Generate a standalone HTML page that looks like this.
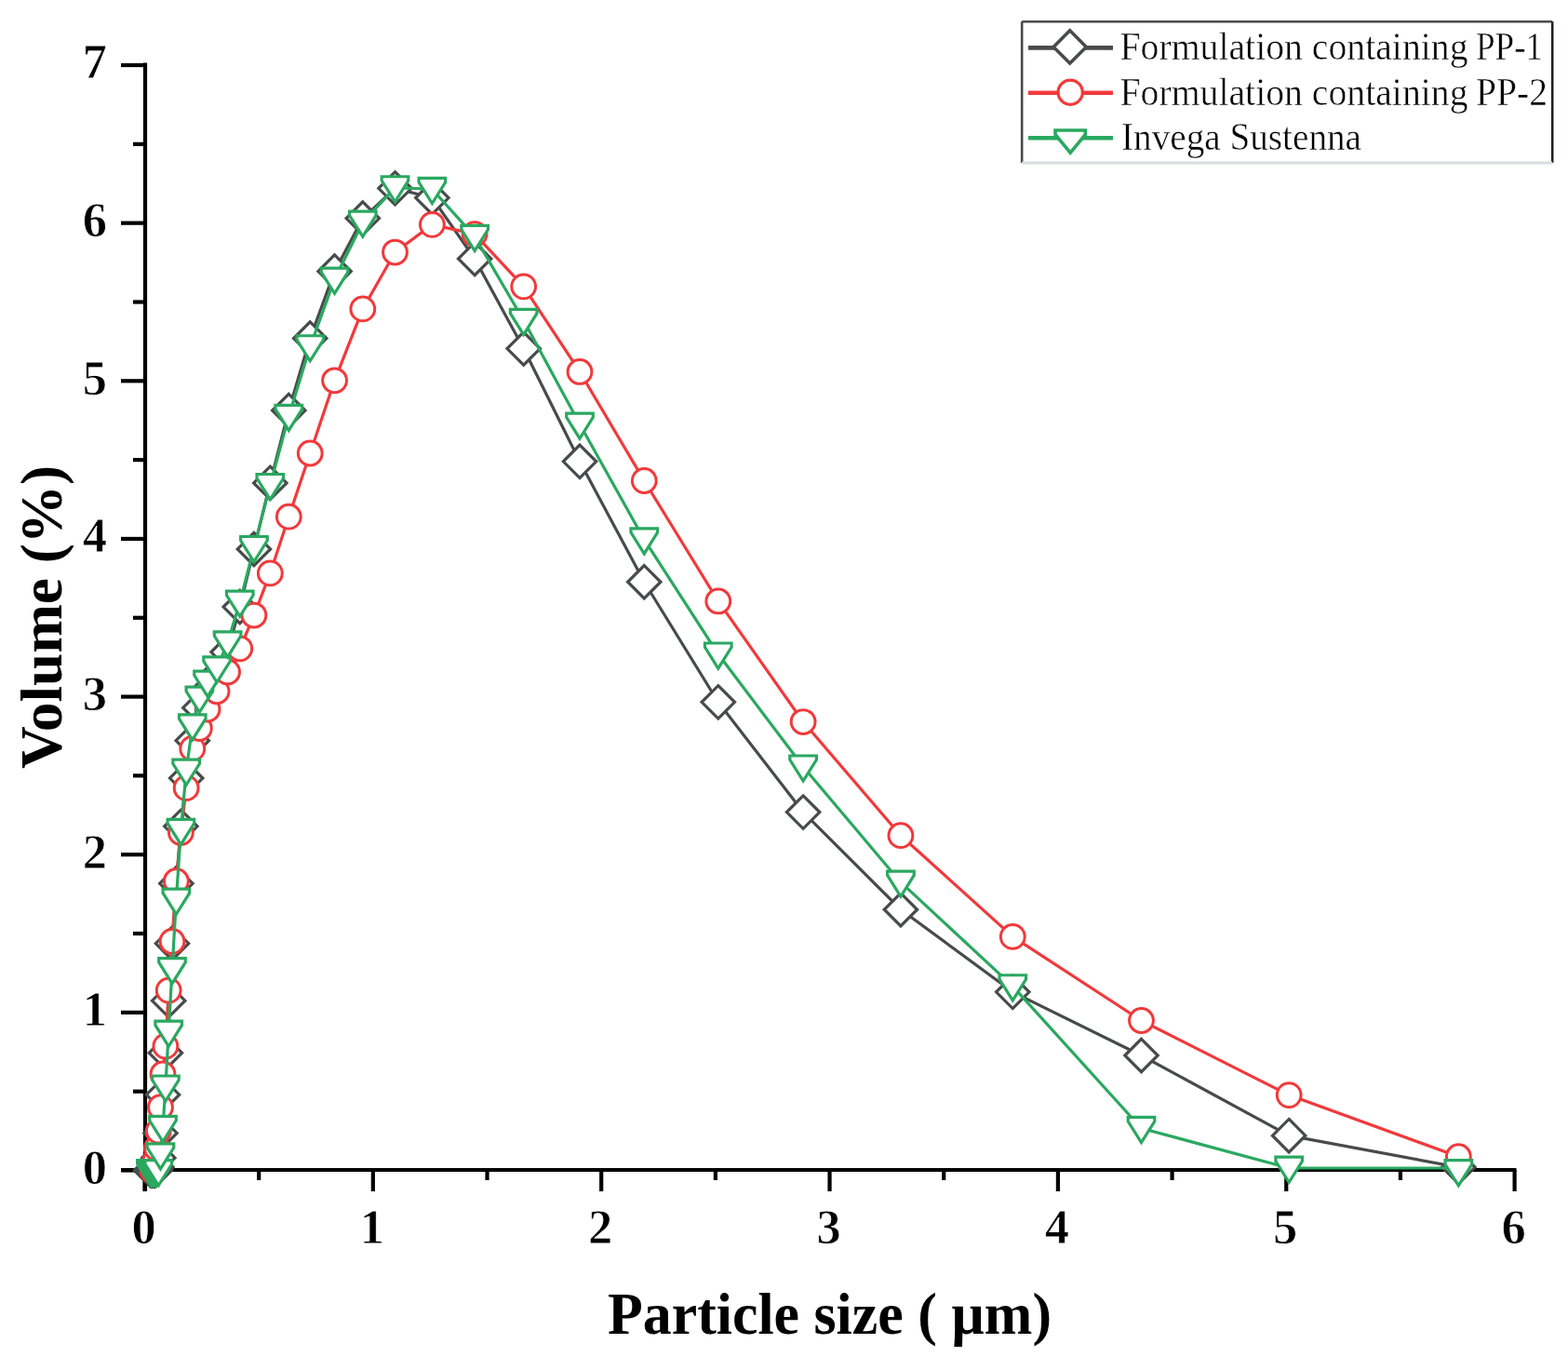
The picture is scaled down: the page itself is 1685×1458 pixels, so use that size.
<!DOCTYPE html>
<html><head><meta charset="utf-8"><title>Particle size distribution</title>
<style>html,body{margin:0;padding:0;background:#fff;}svg{display:block;}</style></head>
<body>
<svg width="1685" height="1458" viewBox="0 0 1685 1458">
<rect x="0" y="0" width="1685" height="1458" fill="#fff"/>
<g id="axes">
<line x1="156" y1="67.5" x2="156" y2="1280" stroke="#000" stroke-width="4.2"/>
<line x1="130" y1="1257" x2="1629.5" y2="1257" stroke="#000" stroke-width="4.2"/>
<line x1="130" y1="1257.50" x2="156" y2="1257.50" stroke="#000" stroke-width="4.2"/>
<line x1="143" y1="1172.68" x2="156" y2="1172.68" stroke="#000" stroke-width="4.2"/>
<line x1="130" y1="1087.86" x2="156" y2="1087.86" stroke="#000" stroke-width="4.2"/>
<line x1="143" y1="1003.04" x2="156" y2="1003.04" stroke="#000" stroke-width="4.2"/>
<line x1="130" y1="918.22" x2="156" y2="918.22" stroke="#000" stroke-width="4.2"/>
<line x1="143" y1="833.40" x2="156" y2="833.40" stroke="#000" stroke-width="4.2"/>
<line x1="130" y1="748.58" x2="156" y2="748.58" stroke="#000" stroke-width="4.2"/>
<line x1="143" y1="663.76" x2="156" y2="663.76" stroke="#000" stroke-width="4.2"/>
<line x1="130" y1="578.94" x2="156" y2="578.94" stroke="#000" stroke-width="4.2"/>
<line x1="143" y1="494.12" x2="156" y2="494.12" stroke="#000" stroke-width="4.2"/>
<line x1="130" y1="409.30" x2="156" y2="409.30" stroke="#000" stroke-width="4.2"/>
<line x1="143" y1="324.48" x2="156" y2="324.48" stroke="#000" stroke-width="4.2"/>
<line x1="130" y1="239.66" x2="156" y2="239.66" stroke="#000" stroke-width="4.2"/>
<line x1="143" y1="154.84" x2="156" y2="154.84" stroke="#000" stroke-width="4.2"/>
<line x1="130" y1="70.02" x2="156" y2="70.02" stroke="#000" stroke-width="4.2"/>
<line x1="155.50" y1="1257" x2="155.50" y2="1280" stroke="#000" stroke-width="4.2"/>
<line x1="278.18" y1="1257" x2="278.18" y2="1268" stroke="#000" stroke-width="4.2"/>
<line x1="400.85" y1="1257" x2="400.85" y2="1280" stroke="#000" stroke-width="4.2"/>
<line x1="523.52" y1="1257" x2="523.52" y2="1268" stroke="#000" stroke-width="4.2"/>
<line x1="646.20" y1="1257" x2="646.20" y2="1280" stroke="#000" stroke-width="4.2"/>
<line x1="768.88" y1="1257" x2="768.88" y2="1268" stroke="#000" stroke-width="4.2"/>
<line x1="891.55" y1="1257" x2="891.55" y2="1280" stroke="#000" stroke-width="4.2"/>
<line x1="1014.23" y1="1257" x2="1014.23" y2="1268" stroke="#000" stroke-width="4.2"/>
<line x1="1136.90" y1="1257" x2="1136.90" y2="1280" stroke="#000" stroke-width="4.2"/>
<line x1="1259.58" y1="1257" x2="1259.58" y2="1268" stroke="#000" stroke-width="4.2"/>
<line x1="1382.25" y1="1257" x2="1382.25" y2="1280" stroke="#000" stroke-width="4.2"/>
<line x1="1504.92" y1="1257" x2="1504.92" y2="1268" stroke="#000" stroke-width="4.2"/>
<line x1="1627.60" y1="1257" x2="1627.60" y2="1280" stroke="#000" stroke-width="4.2"/>
</g>
<g id="series">
<polyline points="161.95,1257.5 162.91,1257.5 164.01,1257.5 165.27,1257.5 166.71,1257.5 168.38,1254.11 170.28,1243.93 172.47,1217.46 174.99,1176.24 177.88,1131.29 181.19,1075.14 185.0,1013.73 189.37,949.26 194.39,887.85 200.15,836.11 206.76,795.74 214.36,760.45 223.08,741.79 233.09,724.83 244.58,700.57 257.78,652.05 272.93,589.97 290.33,518.89 310.31,441.02 333.24,363.5 359.57,291.57 389.81,234.57 424.52,202.34 464.38,212.52 510.14,278.0 562.68,374.52 623.0,495.82 692.27,625.25 771.79,754.35 863.1,872.59 967.93,977.25 1088.29,1065.81 1226.49,1134.0 1385.16,1220.18 1567.34,1254.11" fill="none" stroke="#484b4b" stroke-width="3.2" stroke-linejoin="round"/>
<path d="M161.95,1239.80L179.65,1257.50L161.95,1275.20L144.25,1257.50Z" fill="#fff" stroke="#484b4b" stroke-width="3.2"/>
<path d="M162.91,1239.80L180.61,1257.50L162.91,1275.20L145.21,1257.50Z" fill="#fff" stroke="#484b4b" stroke-width="3.2"/>
<path d="M164.01,1239.80L181.71,1257.50L164.01,1275.20L146.31,1257.50Z" fill="#fff" stroke="#484b4b" stroke-width="3.2"/>
<path d="M165.27,1239.80L182.97,1257.50L165.27,1275.20L147.57,1257.50Z" fill="#fff" stroke="#484b4b" stroke-width="3.2"/>
<path d="M166.71,1239.80L184.41,1257.50L166.71,1275.20L149.01,1257.50Z" fill="#fff" stroke="#484b4b" stroke-width="3.2"/>
<path d="M168.38,1236.41L186.08,1254.11L168.38,1271.81L150.68,1254.11Z" fill="#fff" stroke="#484b4b" stroke-width="3.2"/>
<path d="M170.28,1226.23L187.98,1243.93L170.28,1261.63L152.58,1243.93Z" fill="#fff" stroke="#484b4b" stroke-width="3.2"/>
<path d="M172.47,1199.76L190.17,1217.46L172.47,1235.16L154.77,1217.46Z" fill="#fff" stroke="#484b4b" stroke-width="3.2"/>
<path d="M174.99,1158.54L192.69,1176.24L174.99,1193.94L157.29,1176.24Z" fill="#fff" stroke="#484b4b" stroke-width="3.2"/>
<path d="M177.88,1113.59L195.58,1131.29L177.88,1148.99L160.18,1131.29Z" fill="#fff" stroke="#484b4b" stroke-width="3.2"/>
<path d="M181.19,1057.44L198.89,1075.14L181.19,1092.84L163.49,1075.14Z" fill="#fff" stroke="#484b4b" stroke-width="3.2"/>
<path d="M185.00,996.03L202.70,1013.73L185.00,1031.43L167.30,1013.73Z" fill="#fff" stroke="#484b4b" stroke-width="3.2"/>
<path d="M189.37,931.56L207.07,949.26L189.37,966.96L171.67,949.26Z" fill="#fff" stroke="#484b4b" stroke-width="3.2"/>
<path d="M194.39,870.15L212.09,887.85L194.39,905.55L176.69,887.85Z" fill="#fff" stroke="#484b4b" stroke-width="3.2"/>
<path d="M200.15,818.41L217.85,836.11L200.15,853.81L182.45,836.11Z" fill="#fff" stroke="#484b4b" stroke-width="3.2"/>
<path d="M206.76,778.04L224.46,795.74L206.76,813.44L189.06,795.74Z" fill="#fff" stroke="#484b4b" stroke-width="3.2"/>
<path d="M214.36,742.75L232.06,760.45L214.36,778.15L196.66,760.45Z" fill="#fff" stroke="#484b4b" stroke-width="3.2"/>
<path d="M223.08,724.09L240.78,741.79L223.08,759.49L205.38,741.79Z" fill="#fff" stroke="#484b4b" stroke-width="3.2"/>
<path d="M233.09,707.13L250.79,724.83L233.09,742.53L215.39,724.83Z" fill="#fff" stroke="#484b4b" stroke-width="3.2"/>
<path d="M244.58,682.87L262.28,700.57L244.58,718.27L226.88,700.57Z" fill="#fff" stroke="#484b4b" stroke-width="3.2"/>
<path d="M257.78,634.35L275.48,652.05L257.78,669.75L240.08,652.05Z" fill="#fff" stroke="#484b4b" stroke-width="3.2"/>
<path d="M272.93,572.27L290.63,589.97L272.93,607.67L255.23,589.97Z" fill="#fff" stroke="#484b4b" stroke-width="3.2"/>
<path d="M290.33,501.19L308.03,518.89L290.33,536.59L272.63,518.89Z" fill="#fff" stroke="#484b4b" stroke-width="3.2"/>
<path d="M310.31,423.32L328.01,441.02L310.31,458.72L292.61,441.02Z" fill="#fff" stroke="#484b4b" stroke-width="3.2"/>
<path d="M333.24,345.80L350.94,363.50L333.24,381.20L315.54,363.50Z" fill="#fff" stroke="#484b4b" stroke-width="3.2"/>
<path d="M359.57,273.87L377.27,291.57L359.57,309.27L341.87,291.57Z" fill="#fff" stroke="#484b4b" stroke-width="3.2"/>
<path d="M389.81,216.87L407.51,234.57L389.81,252.27L372.11,234.57Z" fill="#fff" stroke="#484b4b" stroke-width="3.2"/>
<path d="M424.52,184.64L442.22,202.34L424.52,220.04L406.82,202.34Z" fill="#fff" stroke="#484b4b" stroke-width="3.2"/>
<path d="M464.38,194.82L482.08,212.52L464.38,230.22L446.68,212.52Z" fill="#fff" stroke="#484b4b" stroke-width="3.2"/>
<path d="M510.14,260.30L527.84,278.00L510.14,295.70L492.44,278.00Z" fill="#fff" stroke="#484b4b" stroke-width="3.2"/>
<path d="M562.68,356.82L580.38,374.52L562.68,392.22L544.98,374.52Z" fill="#fff" stroke="#484b4b" stroke-width="3.2"/>
<path d="M623.00,478.12L640.70,495.82L623.00,513.52L605.30,495.82Z" fill="#fff" stroke="#484b4b" stroke-width="3.2"/>
<path d="M692.27,607.55L709.97,625.25L692.27,642.95L674.57,625.25Z" fill="#fff" stroke="#484b4b" stroke-width="3.2"/>
<path d="M771.79,736.65L789.49,754.35L771.79,772.05L754.09,754.35Z" fill="#fff" stroke="#484b4b" stroke-width="3.2"/>
<path d="M863.10,854.89L880.80,872.59L863.10,890.29L845.40,872.59Z" fill="#fff" stroke="#484b4b" stroke-width="3.2"/>
<path d="M967.93,959.55L985.63,977.25L967.93,994.95L950.23,977.25Z" fill="#fff" stroke="#484b4b" stroke-width="3.2"/>
<path d="M1088.29,1048.11L1105.99,1065.81L1088.29,1083.51L1070.59,1065.81Z" fill="#fff" stroke="#484b4b" stroke-width="3.2"/>
<path d="M1226.49,1116.30L1244.19,1134.00L1226.49,1151.70L1208.79,1134.00Z" fill="#fff" stroke="#484b4b" stroke-width="3.2"/>
<path d="M1385.16,1202.48L1402.86,1220.18L1385.16,1237.88L1367.46,1220.18Z" fill="#fff" stroke="#484b4b" stroke-width="3.2"/>
<path d="M1567.34,1236.41L1585.04,1254.11L1567.34,1271.81L1549.64,1254.11Z" fill="#fff" stroke="#484b4b" stroke-width="3.2"/>
<polyline points="164.01,1257.5 165.27,1255.8 166.71,1247.32 168.38,1233.75 170.28,1215.09 172.47,1189.64 174.99,1154.02 177.88,1124.16 181.19,1064.11 185.0,1011.52 189.37,946.72 194.39,894.47 200.15,846.63 206.76,804.39 214.36,782.51 223.08,761.98 233.09,742.81 244.58,721.95 257.78,696.84 272.93,661.05 290.33,615.92 310.31,555.19 333.24,487.0 359.57,408.79 389.81,331.94 424.52,271.04 464.38,241.36 510.14,251.53 562.68,307.86 623.0,399.46 692.27,516.51 771.79,645.95 863.1,775.55 967.93,897.69 1088.29,1006.43 1226.49,1096.51 1385.16,1176.58 1567.34,1242.74" fill="none" stroke="#f2393b" stroke-width="3.2" stroke-linejoin="round"/>
<circle cx="164.01" cy="1257.5" r="12.9" fill="#fff" stroke="#f2393b" stroke-width="3.0"/>
<circle cx="165.27" cy="1255.8" r="12.9" fill="#fff" stroke="#f2393b" stroke-width="3.0"/>
<circle cx="166.71" cy="1247.32" r="12.9" fill="#fff" stroke="#f2393b" stroke-width="3.0"/>
<circle cx="168.38" cy="1233.75" r="12.9" fill="#fff" stroke="#f2393b" stroke-width="3.0"/>
<circle cx="170.28" cy="1215.09" r="12.9" fill="#fff" stroke="#f2393b" stroke-width="3.0"/>
<circle cx="172.47" cy="1189.64" r="12.9" fill="#fff" stroke="#f2393b" stroke-width="3.0"/>
<circle cx="174.99" cy="1154.02" r="12.9" fill="#fff" stroke="#f2393b" stroke-width="3.0"/>
<circle cx="177.88" cy="1124.16" r="12.9" fill="#fff" stroke="#f2393b" stroke-width="3.0"/>
<circle cx="181.19" cy="1064.11" r="12.9" fill="#fff" stroke="#f2393b" stroke-width="3.0"/>
<circle cx="185.0" cy="1011.52" r="12.9" fill="#fff" stroke="#f2393b" stroke-width="3.0"/>
<circle cx="189.37" cy="946.72" r="12.9" fill="#fff" stroke="#f2393b" stroke-width="3.0"/>
<circle cx="194.39" cy="894.47" r="12.9" fill="#fff" stroke="#f2393b" stroke-width="3.0"/>
<circle cx="200.15" cy="846.63" r="12.9" fill="#fff" stroke="#f2393b" stroke-width="3.0"/>
<circle cx="206.76" cy="804.39" r="12.9" fill="#fff" stroke="#f2393b" stroke-width="3.0"/>
<circle cx="214.36" cy="782.51" r="12.9" fill="#fff" stroke="#f2393b" stroke-width="3.0"/>
<circle cx="223.08" cy="761.98" r="12.9" fill="#fff" stroke="#f2393b" stroke-width="3.0"/>
<circle cx="233.09" cy="742.81" r="12.9" fill="#fff" stroke="#f2393b" stroke-width="3.0"/>
<circle cx="244.58" cy="721.95" r="12.9" fill="#fff" stroke="#f2393b" stroke-width="3.0"/>
<circle cx="257.78" cy="696.84" r="12.9" fill="#fff" stroke="#f2393b" stroke-width="3.0"/>
<circle cx="272.93" cy="661.05" r="12.9" fill="#fff" stroke="#f2393b" stroke-width="3.0"/>
<circle cx="290.33" cy="615.92" r="12.9" fill="#fff" stroke="#f2393b" stroke-width="3.0"/>
<circle cx="310.31" cy="555.19" r="12.9" fill="#fff" stroke="#f2393b" stroke-width="3.0"/>
<circle cx="333.24" cy="487.0" r="12.9" fill="#fff" stroke="#f2393b" stroke-width="3.0"/>
<circle cx="359.57" cy="408.79" r="12.9" fill="#fff" stroke="#f2393b" stroke-width="3.0"/>
<circle cx="389.81" cy="331.94" r="12.9" fill="#fff" stroke="#f2393b" stroke-width="3.0"/>
<circle cx="424.52" cy="271.04" r="12.9" fill="#fff" stroke="#f2393b" stroke-width="3.0"/>
<circle cx="464.38" cy="241.36" r="12.9" fill="#fff" stroke="#f2393b" stroke-width="3.0"/>
<circle cx="510.14" cy="251.53" r="12.9" fill="#fff" stroke="#f2393b" stroke-width="3.0"/>
<circle cx="562.68" cy="307.86" r="12.9" fill="#fff" stroke="#f2393b" stroke-width="3.0"/>
<circle cx="623.0" cy="399.46" r="12.9" fill="#fff" stroke="#f2393b" stroke-width="3.0"/>
<circle cx="692.27" cy="516.51" r="12.9" fill="#fff" stroke="#f2393b" stroke-width="3.0"/>
<circle cx="771.79" cy="645.95" r="12.9" fill="#fff" stroke="#f2393b" stroke-width="3.0"/>
<circle cx="863.1" cy="775.55" r="12.9" fill="#fff" stroke="#f2393b" stroke-width="3.0"/>
<circle cx="967.93" cy="897.69" r="12.9" fill="#fff" stroke="#f2393b" stroke-width="3.0"/>
<circle cx="1088.29" cy="1006.43" r="12.9" fill="#fff" stroke="#f2393b" stroke-width="3.0"/>
<circle cx="1226.49" cy="1096.51" r="12.9" fill="#fff" stroke="#f2393b" stroke-width="3.0"/>
<circle cx="1385.16" cy="1176.58" r="12.9" fill="#fff" stroke="#f2393b" stroke-width="3.0"/>
<circle cx="1567.34" cy="1242.74" r="12.9" fill="#fff" stroke="#f2393b" stroke-width="3.0"/>
<polyline points="161.95,1258.39 162.91,1258.39 164.01,1258.39 165.27,1258.39 166.71,1258.39 168.38,1258.39 170.28,1258.39 172.47,1240.58 174.99,1211.23 177.88,1167.81 181.19,1108.94 185.0,1041.42 189.37,966.95 194.39,892.14 200.15,828.02 206.76,779.67 214.36,749.98 223.08,733.02 233.09,717.75 244.58,690.61 257.78,647.01 272.93,588.31 290.33,521.31 310.31,447.17 333.24,372.53 359.57,299.93 389.81,238.86 424.52,201.54 464.38,203.23 510.14,254.12 562.68,344.2 623.0,455.83 692.27,579.66 771.79,702.82 863.1,823.78 967.93,947.95 1088.29,1059.57 1226.49,1212.25 1385.16,1255.0 1567.34,1255.0" fill="none" stroke="#2aa860" stroke-width="3.2" stroke-linejoin="round"/>
<path d="M147.65,1246.59L176.25,1246.59L176.25,1250.89L161.95,1273.69L147.65,1250.89Z" fill="#fff" stroke="#2aa860" stroke-width="3.2" stroke-linejoin="miter"/>
<path d="M148.61,1246.59L177.21,1246.59L177.21,1250.89L162.91,1273.69L148.61,1250.89Z" fill="#fff" stroke="#2aa860" stroke-width="3.2" stroke-linejoin="miter"/>
<path d="M149.71,1246.59L178.31,1246.59L178.31,1250.89L164.01,1273.69L149.71,1250.89Z" fill="#fff" stroke="#2aa860" stroke-width="3.2" stroke-linejoin="miter"/>
<path d="M150.97,1246.59L179.57,1246.59L179.57,1250.89L165.27,1273.69L150.97,1250.89Z" fill="#fff" stroke="#2aa860" stroke-width="3.2" stroke-linejoin="miter"/>
<path d="M152.41,1246.59L181.01,1246.59L181.01,1250.89L166.71,1273.69L152.41,1250.89Z" fill="#fff" stroke="#2aa860" stroke-width="3.2" stroke-linejoin="miter"/>
<path d="M154.08,1246.59L182.68,1246.59L182.68,1250.89L168.38,1273.69L154.08,1250.89Z" fill="#fff" stroke="#2aa860" stroke-width="3.2" stroke-linejoin="miter"/>
<path d="M155.98,1246.59L184.58,1246.59L184.58,1250.89L170.28,1273.69L155.98,1250.89Z" fill="#fff" stroke="#2aa860" stroke-width="3.2" stroke-linejoin="miter"/>
<path d="M158.17,1228.78L186.77,1228.78L186.77,1233.08L172.47,1255.88L158.17,1233.08Z" fill="#fff" stroke="#2aa860" stroke-width="3.2" stroke-linejoin="miter"/>
<path d="M160.69,1199.43L189.29,1199.43L189.29,1203.73L174.99,1226.53L160.69,1203.73Z" fill="#fff" stroke="#2aa860" stroke-width="3.2" stroke-linejoin="miter"/>
<path d="M163.58,1156.01L192.18,1156.01L192.18,1160.31L177.88,1183.11L163.58,1160.31Z" fill="#fff" stroke="#2aa860" stroke-width="3.2" stroke-linejoin="miter"/>
<path d="M166.89,1097.14L195.49,1097.14L195.49,1101.44L181.19,1124.24L166.89,1101.44Z" fill="#fff" stroke="#2aa860" stroke-width="3.2" stroke-linejoin="miter"/>
<path d="M170.70,1029.62L199.30,1029.62L199.30,1033.92L185.00,1056.72L170.70,1033.92Z" fill="#fff" stroke="#2aa860" stroke-width="3.2" stroke-linejoin="miter"/>
<path d="M175.07,955.15L203.67,955.15L203.67,959.45L189.37,982.25L175.07,959.45Z" fill="#fff" stroke="#2aa860" stroke-width="3.2" stroke-linejoin="miter"/>
<path d="M180.09,880.34L208.69,880.34L208.69,884.64L194.39,907.44L180.09,884.64Z" fill="#fff" stroke="#2aa860" stroke-width="3.2" stroke-linejoin="miter"/>
<path d="M185.85,816.22L214.45,816.22L214.45,820.52L200.15,843.32L185.85,820.52Z" fill="#fff" stroke="#2aa860" stroke-width="3.2" stroke-linejoin="miter"/>
<path d="M192.46,767.87L221.06,767.87L221.06,772.17L206.76,794.97L192.46,772.17Z" fill="#fff" stroke="#2aa860" stroke-width="3.2" stroke-linejoin="miter"/>
<path d="M200.06,738.18L228.66,738.18L228.66,742.48L214.36,765.28L200.06,742.48Z" fill="#fff" stroke="#2aa860" stroke-width="3.2" stroke-linejoin="miter"/>
<path d="M208.78,721.22L237.38,721.22L237.38,725.52L223.08,748.32L208.78,725.52Z" fill="#fff" stroke="#2aa860" stroke-width="3.2" stroke-linejoin="miter"/>
<path d="M218.79,705.95L247.39,705.95L247.39,710.25L233.09,733.05L218.79,710.25Z" fill="#fff" stroke="#2aa860" stroke-width="3.2" stroke-linejoin="miter"/>
<path d="M230.28,678.81L258.88,678.81L258.88,683.11L244.58,705.91L230.28,683.11Z" fill="#fff" stroke="#2aa860" stroke-width="3.2" stroke-linejoin="miter"/>
<path d="M243.48,635.21L272.08,635.21L272.08,639.51L257.78,662.31L243.48,639.51Z" fill="#fff" stroke="#2aa860" stroke-width="3.2" stroke-linejoin="miter"/>
<path d="M258.63,576.51L287.23,576.51L287.23,580.81L272.93,603.61L258.63,580.81Z" fill="#fff" stroke="#2aa860" stroke-width="3.2" stroke-linejoin="miter"/>
<path d="M276.03,509.51L304.63,509.51L304.63,513.81L290.33,536.61L276.03,513.81Z" fill="#fff" stroke="#2aa860" stroke-width="3.2" stroke-linejoin="miter"/>
<path d="M296.01,435.37L324.61,435.37L324.61,439.67L310.31,462.47L296.01,439.67Z" fill="#fff" stroke="#2aa860" stroke-width="3.2" stroke-linejoin="miter"/>
<path d="M318.94,360.73L347.54,360.73L347.54,365.03L333.24,387.83L318.94,365.03Z" fill="#fff" stroke="#2aa860" stroke-width="3.2" stroke-linejoin="miter"/>
<path d="M345.27,288.13L373.87,288.13L373.87,292.43L359.57,315.23L345.27,292.43Z" fill="#fff" stroke="#2aa860" stroke-width="3.2" stroke-linejoin="miter"/>
<path d="M375.51,227.06L404.11,227.06L404.11,231.36L389.81,254.16L375.51,231.36Z" fill="#fff" stroke="#2aa860" stroke-width="3.2" stroke-linejoin="miter"/>
<path d="M410.22,189.74L438.82,189.74L438.82,194.04L424.52,216.84L410.22,194.04Z" fill="#fff" stroke="#2aa860" stroke-width="3.2" stroke-linejoin="miter"/>
<path d="M450.08,191.43L478.68,191.43L478.68,195.73L464.38,218.53L450.08,195.73Z" fill="#fff" stroke="#2aa860" stroke-width="3.2" stroke-linejoin="miter"/>
<path d="M495.84,242.32L524.44,242.32L524.44,246.62L510.14,269.42L495.84,246.62Z" fill="#fff" stroke="#2aa860" stroke-width="3.2" stroke-linejoin="miter"/>
<path d="M548.38,332.40L576.98,332.40L576.98,336.70L562.68,359.50L548.38,336.70Z" fill="#fff" stroke="#2aa860" stroke-width="3.2" stroke-linejoin="miter"/>
<path d="M608.70,444.03L637.30,444.03L637.30,448.33L623.00,471.13L608.70,448.33Z" fill="#fff" stroke="#2aa860" stroke-width="3.2" stroke-linejoin="miter"/>
<path d="M677.97,567.86L706.57,567.86L706.57,572.16L692.27,594.96L677.97,572.16Z" fill="#fff" stroke="#2aa860" stroke-width="3.2" stroke-linejoin="miter"/>
<path d="M757.49,691.02L786.09,691.02L786.09,695.32L771.79,718.12L757.49,695.32Z" fill="#fff" stroke="#2aa860" stroke-width="3.2" stroke-linejoin="miter"/>
<path d="M848.80,811.98L877.40,811.98L877.40,816.28L863.10,839.08L848.80,816.28Z" fill="#fff" stroke="#2aa860" stroke-width="3.2" stroke-linejoin="miter"/>
<path d="M953.63,936.15L982.23,936.15L982.23,940.45L967.93,963.25L953.63,940.45Z" fill="#fff" stroke="#2aa860" stroke-width="3.2" stroke-linejoin="miter"/>
<path d="M1073.99,1047.77L1102.59,1047.77L1102.59,1052.07L1088.29,1074.87L1073.99,1052.07Z" fill="#fff" stroke="#2aa860" stroke-width="3.2" stroke-linejoin="miter"/>
<path d="M1212.19,1200.45L1240.79,1200.45L1240.79,1204.75L1226.49,1227.55L1212.19,1204.75Z" fill="#fff" stroke="#2aa860" stroke-width="3.2" stroke-linejoin="miter"/>
<path d="M1370.86,1243.20L1399.46,1243.20L1399.46,1247.50L1385.16,1270.30L1370.86,1247.50Z" fill="#fff" stroke="#2aa860" stroke-width="3.2" stroke-linejoin="miter"/>
<path d="M1553.04,1246.70L1581.64,1246.70L1581.64,1251.00L1567.34,1273.80L1553.04,1251.00Z" fill="#fff" stroke="#2aa860" stroke-width="3.2" stroke-linejoin="miter"/>
</g>
<g font-family="'Liberation Serif', 'Times New Roman', serif" font-weight="bold" font-size="52.5" fill="#000" stroke="#fff" stroke-width="0.8">
<text x="115" y="1271.8" text-anchor="end">0</text>
<text x="115" y="1102.2" text-anchor="end">1</text>
<text x="115" y="932.5" text-anchor="end">2</text>
<text x="115" y="762.9" text-anchor="end">3</text>
<text x="115" y="593.2" text-anchor="end">4</text>
<text x="115" y="423.6" text-anchor="end">5</text>
<text x="115" y="254.0" text-anchor="end">6</text>
<text x="115" y="84.3" text-anchor="end">7</text>
<text x="154.5" y="1336" text-anchor="middle">0</text>
<text x="399.9" y="1336" text-anchor="middle">1</text>
<text x="645.2" y="1336" text-anchor="middle">2</text>
<text x="890.5" y="1336" text-anchor="middle">3</text>
<text x="1135.9" y="1336" text-anchor="middle">4</text>
<text x="1381.2" y="1336" text-anchor="middle">5</text>
<text x="1626.6" y="1336" text-anchor="middle">6</text>
</g>
<text x="653" y="1433" font-family="'Liberation Serif', 'Times New Roman', serif" font-weight="bold" font-size="64" textLength="477" lengthAdjust="spacingAndGlyphs">Particle size ( µm)</text>
<text transform="translate(65.5,826) rotate(-90)" x="0" y="0" font-family="'Liberation Serif', 'Times New Roman', serif" font-weight="bold" font-size="64" textLength="326" lengthAdjust="spacingAndGlyphs">Volume (%)</text>
<g id="legend">
<rect x="1098.2" y="23.2" width="570" height="152" fill="#fff" stroke="none"/>
<line x1="1098.2" y1="23.2" x2="1668.2" y2="23.2" stroke="#4a4a4a" stroke-width="2.6"/>
<line x1="1098.2" y1="23.2" x2="1098.2" y2="175" stroke="#4a4a4a" stroke-width="2.6"/>
<line x1="1668.2" y1="23.2" x2="1668.2" y2="175" stroke="#1c2424" stroke-width="2.6"/>
<line x1="1098.2" y1="175" x2="1668.2" y2="175" stroke="#d8dde0" stroke-width="3"/>
<line x1="1105" y1="51.4" x2="1196" y2="51.4" stroke="#484b4b" stroke-width="4.6"/>
<path d="M1149.70,32.80L1167.30,50.40L1149.70,68.00L1132.10,50.40Z" fill="#fff" stroke="#484b4b" stroke-width="3.6"/>
<line x1="1105" y1="99.8" x2="1196" y2="99.8" stroke="#f2393b" stroke-width="4.6"/>
<circle cx="1150.2" cy="99.2" r="13.1" fill="#fff" stroke="#f2393b" stroke-width="3.2"/>
<line x1="1105" y1="148.2" x2="1196" y2="148.2" stroke="#2aa860" stroke-width="4.6"/>
<path d="M1134,140L1166.4,140L1166.4,144.5L1150.2,164.2L1134,144.5Z" fill="#fff" stroke="#2aa860" stroke-width="3.6"/>
<g font-family="'Liberation Serif', 'Times New Roman', serif" font-size="42" fill="#000" stroke="#fff" stroke-width="0.5">
<text y="64"><tspan x="1203.5" textLength="374" lengthAdjust="spacingAndGlyphs">Formulation containing</tspan> <tspan x="1586" textLength="72" lengthAdjust="spacingAndGlyphs">PP-1</tspan></text>
<text y="112.5"><tspan x="1203.5" textLength="374" lengthAdjust="spacingAndGlyphs">Formulation containing</tspan> <tspan x="1586" textLength="77" lengthAdjust="spacingAndGlyphs">PP-2</tspan></text>
<text x="1205" y="161" textLength="258" lengthAdjust="spacingAndGlyphs">Invega Sustenna</text>
</g>
</g>
</svg>
</body></html>
